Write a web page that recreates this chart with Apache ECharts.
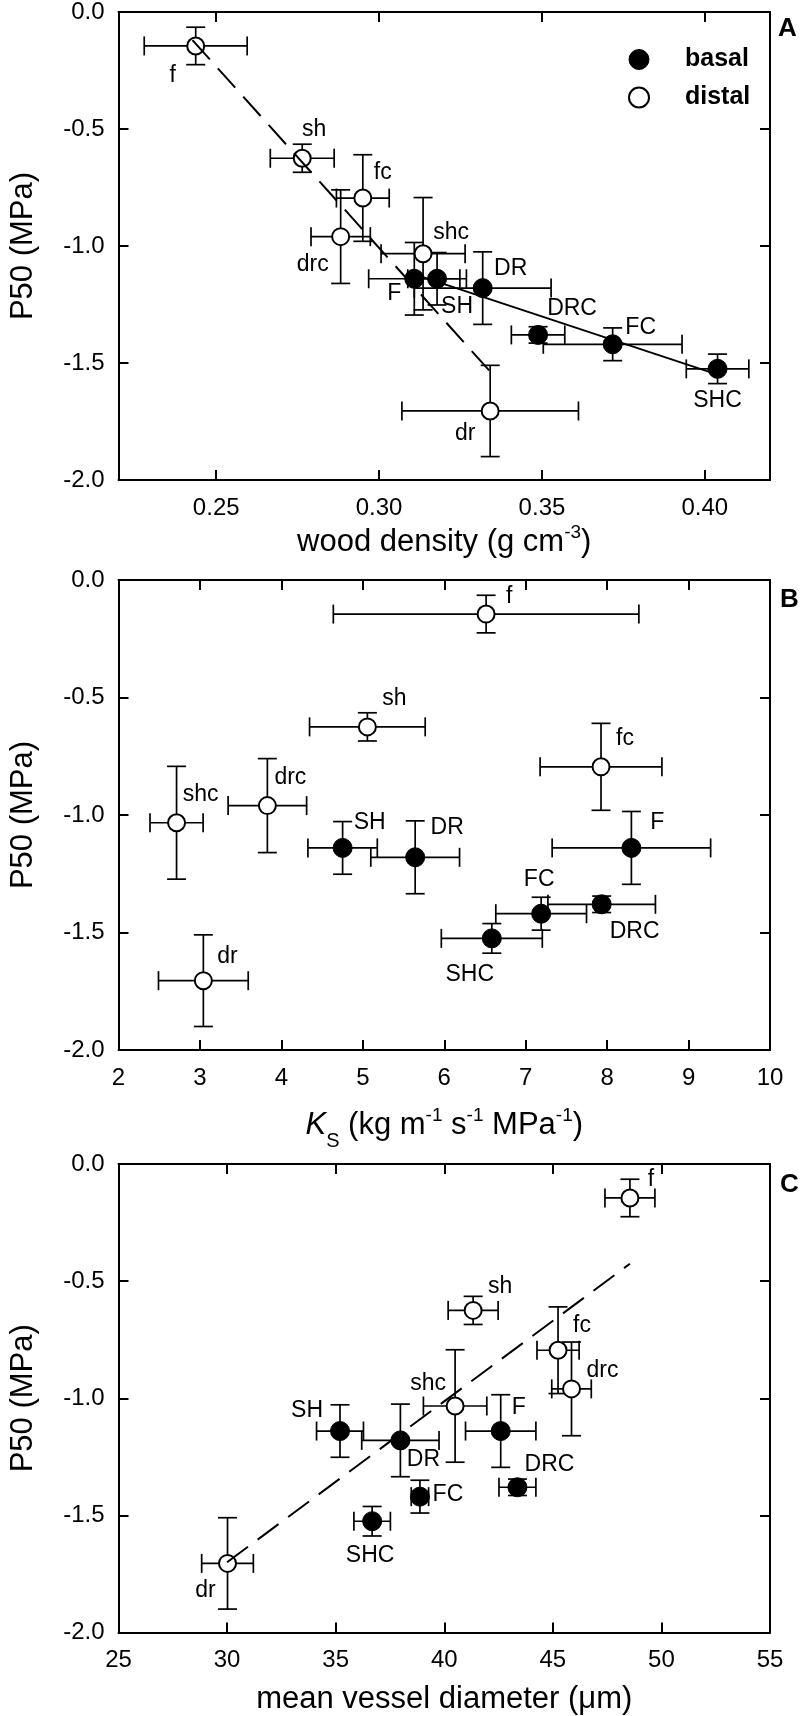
<!DOCTYPE html>
<html>
<head>
<meta charset="utf-8">
<script src="https://cdn.jsdelivr.net/npm/echarts@6/dist/echarts.min.js"></script>
<style>
html,body{margin:0;padding:0;background:#fff;}
#chart{width:800px;height:1716px;}
</style>
</head>
<body>
<div id="chart"></div>
<script>
// ---------------- DATA ----------------
// first six = basal (filled), last six = distal (open)
const pointNames = ['F','SH','DR','FC','SHC','DRC','f','sh','dr','fc','shc','drc'];
const p50      = [-1.14,-1.14,-1.18,-1.42,-1.525,-1.38,-0.145,-0.625,-1.705,-0.795,-1.033,-0.96];
const p50Err   = [0.155,0.112,0.155,0.07,0.063,0.035,0.08,0.06,0.195,0.185,0.24,0.2];

const woodDensity    = [0.3108,0.3178,0.3318,0.3717,0.4039,0.3488,0.2437,0.2764,0.3341,0.2950,0.3135,0.2882];
const woodDensityErr = [0.014,0.009,0.021,0.0213,0.0096,0.0082,0.0158,0.0098,0.0271,0.0081,0.0129,0.0091];

const ks    = [8.298,4.752,5.643,7.19,6.584,7.933,6.514,5.056,3.042,7.925,2.713,3.828];
const ksErr = [0.973,0.426,0.545,0.557,0.62,0.66,1.876,0.71,0.551,0.748,0.326,0.482];

const vesselDiam    = [42.6,35.2,37.98,38.88,36.68,43.37,48.55,41.33,30.02,45.24,40.5,45.86];
const vesselDiamErr = [1.62,1.08,1.78,0.4,0.84,0.85,1.15,1.15,1.19,0.97,1.46,0.91];

// regression lines (end points in data units)
const fitA_distal_x = [0.2427, 0.3338];
const fitA_distal_y = [-0.12, -1.532];
const fitA_basal_x  = [0.3105, 0.4016];
const fitA_basal_y  = [-1.119, -1.539];
const fitC_all_x    = [30.0, 48.55];
const fitC_all_y    = [-1.70, -0.426];

// tick labels
const yTicks  = [-2.0,-1.5,-1.0,-0.5,0.0];
const xTicksA = [0.25,0.30,0.35,0.40];
const xTicksB = [2,3,4,5,6,7,8,9,10];
const xTicksC = [25,30,35,40,45,50,55];

// ---------------- STYLE / LAYOUT ----------------
const FONT = "'Liberation Sans', Arial, Helvetica, sans-serif";
const labelOffsets = {
  A: {F:[-20,15], SH:[20,28], DR:[28,-19], FC:[28,-17], SHC:[0,32], DRC:[34,-26],
      f:[-23,30], sh:[12,-29], dr:[-25,23], fc:[20,-25], shc:[28,-21], drc:[-28,28]},
  B: {F:[26,-25], SH:[27,-25], DR:[32,-30], FC:[-2,-34], SHC:[-22,36], DRC:[33,27],
      f:[23,-17], sh:[27,-28], dr:[24,-24], fc:[24,-28], shc:[24,-28], drc:[23,-28]},
  C: {F:[18,-23], SH:[-33,-20], DR:[23,19], FC:[28,-2], SHC:[-2,34], DRC:[32,-23],
      f:[21,-18], sh:[27,-24], dr:[-22,27], fc:[24,-25], shc:[-27,-22], drc:[31,-18]}
};

const panels = [
  {key:'A', top:10,   x:woodDensity, xe:woodDensityErr, min:0.22, max:0.42, ticks:xTicksA, dec:2,
   name:'{t|wood density (g cm}{s|-3}{t|)}', nameGap:62},
  {key:'B', top:580,  x:ks, xe:ksErr, min:2, max:10, ticks:xTicksB, dec:0,
   name:'{i|K}{sub|S}{t| (kg m}{s|-1}{t| s}{s|-1}{t| MPa}{s|-1}{t|)}', nameGap:75},
  {key:'C', top:1164, x:vesselDiam, xe:vesselDiamErr, min:25, max:55, ticks:xTicksC, dec:0,
   name:'{t|mean vessel diameter (μm)}', nameGap:67}
];

const richName = {
  t:{fontSize:31, fontFamily:FONT, color:'#000', lineHeight:38},
  i:{fontSize:31, fontFamily:FONT, color:'#000', fontStyle:'italic', lineHeight:38},
  s:{fontSize:19, fontFamily:FONT, color:'#000', verticalAlign:'top', lineHeight:19},
  sub:{fontSize:20, fontFamily:FONT, color:'#000', verticalAlign:'bottom', lineHeight:19, padding:[0,0,-7,0]}
};

const grids = [], xAxes = [], yAxes = [], series = [];
const axisLineStyle = {color:'#000', width:2};
const tickStyle = {color:'#000', width:2};

panels.forEach((p, i) => {
  grids.push({left:112, top:p.top, width:658, height:470});
  // bottom x
  xAxes.push({
    gridIndex:i, type:'value', position:'bottom', min:p.min, max:p.max,
    axisLine:{show:true, onZero:false, lineStyle:axisLineStyle},
    axisTick:{show:true, inside:true, length:10, lineStyle:tickStyle, customValues:p.ticks},
    axisLabel:{show:true, color:'#000', fontSize:24, fontFamily:FONT, margin:16,
               customValues:p.ticks, showMinLabel:true, showMaxLabel:true,
               formatter:(v)=>Number(v).toFixed(p.dec)},
    splitLine:{show:false},
    name:p.name, nameLocation:'middle', nameGap:p.nameGap,
    nameTextStyle:{rich:richName, verticalAlign:'middle', color:'#000', fontSize:31, fontFamily:FONT}
  });
  // top x (ticks only)
  xAxes.push({
    gridIndex:i, type:'value', position:'top', min:p.min, max:p.max,
    axisLine:{show:true, onZero:false, lineStyle:axisLineStyle},
    axisTick:{show:true, inside:true, length:10, lineStyle:tickStyle, customValues:p.ticks},
    axisLabel:{show:false, customValues:p.ticks},
    splitLine:{show:false}
  });
  // left y
  yAxes.push({
    gridIndex:i, type:'value', position:'left', min:-2, max:0,
    axisLine:{show:true, onZero:false, lineStyle:axisLineStyle},
    axisTick:{show:true, inside:true, length:10, lineStyle:tickStyle, customValues:yTicks},
    axisLabel:{show:true, color:'#000', fontSize:24, fontFamily:FONT, margin:14,
               customValues:yTicks, showMinLabel:true, showMaxLabel:true,
               formatter:(v)=>Number(v).toFixed(1)},
    splitLine:{show:false},
    name:'P50 (MPa)', nameLocation:'middle', nameGap:95,
    nameTextStyle:{color:'#000', fontSize:31, fontFamily:FONT, verticalAlign:'middle'}
  });
  // right y (ticks only)
  yAxes.push({
    gridIndex:i, type:'value', position:'right', min:-2, max:0,
    axisLine:{show:true, onZero:false, lineStyle:axisLineStyle},
    axisTick:{show:true, inside:true, length:10, lineStyle:tickStyle, customValues:yTicks},
    axisLabel:{show:false, customValues:yTicks},
    splitLine:{show:false}
  });

  const xi = 2*i, yi = 2*i;

  // error bars
  const errData = pointNames.map((n, k) => [p.x[k], p50[k], p.xe[k], p50Err[k]]);
  series.push({
    type:'custom', xAxisIndex:xi, yAxisIndex:yi, z:1, silent:true,
    encode:{x:0, y:1},
    data:errData,
    renderItem:function(params, api){
      const x = api.value(0), y = api.value(1), xe = api.value(2), ye = api.value(3);
      const l = api.coord([x - xe, y]), r = api.coord([x + xe, y]);
      const t = api.coord([x, y + ye]), b = api.coord([x, y - ye]);
      const cap = 9.5;
      const st = {stroke:'#000', lineWidth:1.7, fill:null};
      const line = (x1,y1,x2,y2) => ({type:'line', shape:{x1,y1,x2,y2}, style:st});
      return {type:'group', children:[
        line(l[0], l[1], r[0], r[1]),
        line(l[0], l[1]-cap, l[0], l[1]+cap),
        line(r[0], r[1]-cap, r[0], r[1]+cap),
        line(t[0], t[1], b[0], b[1]),
        line(t[0]-cap, t[1], t[0]+cap, t[1]),
        line(b[0]-cap, b[1], b[0]+cap, b[1])
      ]};
    }
  });

  const mk = (k) => ({
    value:[p.x[k], p50[k]], name:pointNames[k],
    label:{offset:labelOffsets[p.key][pointNames[k]]}
  });
  const labelCfg = {show:true, position:'inside', formatter:'{b}', color:'#000',
                    fontSize:23, fontFamily:FONT, textBorderWidth:0};
  series.push({
    type:'scatter', name:'basal', xAxisIndex:xi, yAxisIndex:yi, z:3,
    symbol:'circle', symbolSize:19,
    itemStyle:{color:'#000', borderColor:'#000', borderWidth:1, opacity:1},
    label:labelCfg, emphasis:{disabled:true},
    data:[0,1,2,3,4,5].map(mk)
  });
  series.push({
    type:'scatter', name:'distal', xAxisIndex:xi, yAxisIndex:yi, z:3,
    symbol:'circle', symbolSize:17,
    itemStyle:{color:'#fff', borderColor:'#000', borderWidth:2, opacity:1},
    label:labelCfg, emphasis:{disabled:true},
    data:[6,7,8,9,10,11].map(mk)
  });
});

// regression lines
const addLine = (gi, xs, ys, dashed) => series.push({
  type:'line', xAxisIndex:2*gi, yAxisIndex:2*gi, z:5, silent:true,
  symbol:'none', animation:false,
  lineStyle:{color:'#000', width:2, type: dashed ? [26,12] : 'solid'},
  data: xs.map((x, k) => [x, ys[k]])
});
addLine(0, fitA_distal_x, fitA_distal_y, true);
addLine(0, fitA_basal_x, fitA_basal_y, false);
addLine(2, fitC_all_x, fitC_all_y, true);

const chart = echarts.init(document.getElementById('chart'), null, {renderer:'canvas'});
chart.setOption({
  animation:false,
  backgroundColor:'#fff',
  grid:grids, xAxis:xAxes, yAxis:yAxes, series:series,
  legend:{
    show:true, orient:'vertical', left:623, top:42, itemWidth:20, itemHeight:20, itemGap:13,
    selectedMode:false,
    textStyle:{fontSize:25, fontWeight:'bold', fontFamily:FONT, color:'#000', padding:[0,0,0,31], lineHeight:20},
    data:[
      {name:'basal', icon:'circle', itemStyle:{color:'#000', borderColor:'#000', borderWidth:1}},
      {name:'distal', icon:'circle', itemStyle:{color:'#fff', borderColor:'#000', borderWidth:2}}
    ]
  },
  graphic:[
    {type:'text', left:778, top:16, style:{text:'A', font:"bold 26px 'Liberation Sans', Arial", fill:'#000'}},
    {type:'text', left:780, top:587, style:{text:'B', font:"bold 26px 'Liberation Sans', Arial", fill:'#000'}},
    {type:'text', left:780, top:1172, style:{text:'C', font:"bold 26px 'Liberation Sans', Arial", fill:'#000'}}
  ]
});
</script>
</body>
</html>
